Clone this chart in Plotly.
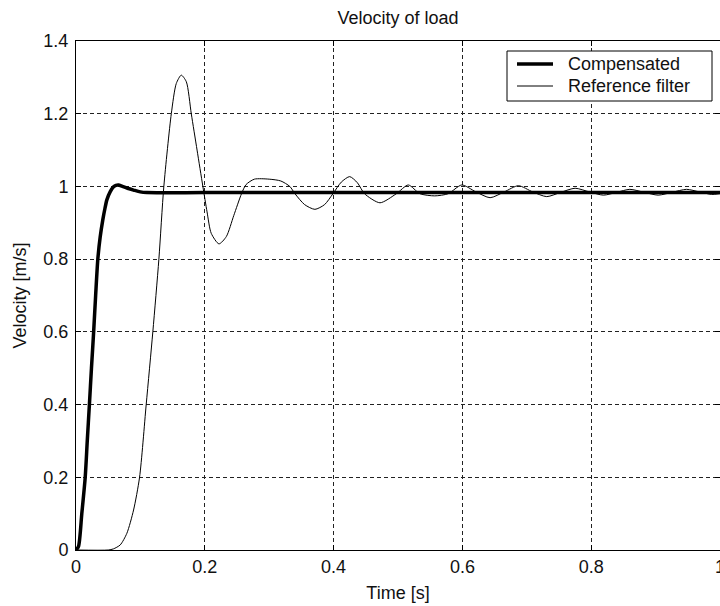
import plotly.graph_objects as go

# Step response of the load velocity: compensated system vs. reference filter
t_comp = [0, 0.0039, 0.009, 0.0143, 0.0175, 0.0208, 0.024, 0.0274, 0.0305, 0.0339,
          0.0375, 0.0416, 0.045, 0.0479, 0.053, 0.0583, 0.062, 0.066, 0.072, 0.08,
          0.0894, 0.0998, 0.11, 0.2, 0.4, 0.6, 0.8, 1.0]
v_comp = [0, 0.01, 0.10, 0.2, 0.3, 0.4, 0.5, 0.6, 0.7, 0.8,
          0.86, 0.908, 0.94, 0.963, 0.985, 0.999, 1.003, 1.004, 1.0, 0.995,
          0.99, 0.985, 0.983, 0.983, 0.983, 0.983, 0.983, 0.983]

t_ref = [0, 0.05, 0.058, 0.0687, 0.079, 0.0894, 0.0987, 0.109, 0.1193, 0.1287,
         0.1364, 0.148, 0.1557, 0.1635, 0.1713, 0.179, 0.188, 0.197, 0.2035, 0.21,
         0.222, 0.2334, 0.245, 0.257, 0.264, 0.277, 0.30, 0.318, 0.332, 0.340,
         0.355, 0.371, 0.386, 0.399, 0.412, 0.425, 0.437, 0.448, 0.472, 0.4975,
         0.516, 0.534, 0.557, 0.578, 0.599, 0.621, 0.643, 0.665, 0.687, 0.709,
         0.731, 0.753, 0.775, 0.797, 0.819, 0.84, 0.86, 0.882, 0.904, 0.926,
         0.948, 0.968, 0.987, 1.0]
v_ref = [0, 0, 0.003, 0.014, 0.046, 0.11, 0.2, 0.4, 0.6, 0.8,
         1.0, 1.2, 1.283, 1.306, 1.288, 1.2, 1.1, 1.0, 0.93, 0.871,
         0.842, 0.862, 0.92, 0.98, 1.005, 1.02, 1.02, 1.015, 1.0, 0.98,
         0.95, 0.937, 0.95, 0.98, 1.012, 1.027, 1.01, 0.98, 0.955, 0.98,
         1.004, 0.98, 0.974, 0.98, 1.004, 0.985, 0.969, 0.985, 1.002, 0.985,
         0.972, 0.984, 0.995, 0.985, 0.976, 0.984, 0.992, 0.984, 0.976, 0.984,
         0.992, 0.985, 0.978, 0.98]

series_names = ["Compensated", "Reference filter"]
series_widths = [3.5, 1]

x_ticks = [0, 0.2, 0.4, 0.6, 0.8, 1]
x_labels = ["0", "0.2", "0.4", "0.6", "0.8", "1"]
y_ticks = [0, 0.2, 0.4, 0.6, 0.8, 1, 1.2, 1.4]
y_labels = ["0", "0.2", "0.4", "0.6", "0.8", "1", "1.2", "1.4"]

FONT = "Liberation Sans, Arial, sans-serif"
TXT = "#111"
W, H = 720, 606
ML, MR, MT, MB = 76, 0, 41, 56
PW, PH = W - ML - MR, H - MT - MB


def px_x(x):
    """Pixel column -> paper x."""
    return (x - ML) / PW


def px_y(y):
    """Pixel row -> paper y."""
    return (H - MB - y) / PH


fig = go.Figure()
for tx, vy, name, lw in zip([t_comp, t_ref], [v_comp, v_ref], series_names, series_widths):
    fig.add_trace(go.Scatter(x=tx, y=vy, mode="lines", name=name, showlegend=False,
                             line=dict(color="black", width=lw, shape="spline", smoothing=0.7)))

axis_common = dict(
    showline=True, linecolor="black", linewidth=1, mirror="ticks",
    ticks="inside", ticklen=5, tickcolor="black",
    showgrid=True, gridcolor="#222", gridwidth=1, griddash="4px,3px",
    zeroline=False, tickfont=dict(family=FONT, size=18, color=TXT),
    ticklabeloverflow="allow",
)

fig.update_xaxes(range=[0, 1], tickvals=x_ticks, ticktext=x_labels,
                 ticklabelstandoff=0,
                 title=dict(text="Time [s]", font=dict(family=FONT, size=18, color=TXT),
                            standoff=10),
                 **axis_common)
fig.update_yaxes(range=[0, 1.4], tickvals=y_ticks, ticktext=y_labels,
                 ticklabelstandoff=3,
                 title=dict(text="Velocity [m/s]", font=dict(family=FONT, size=18, color=TXT),
                            standoff=12),
                 **axis_common)

# Boxed legend in the upper-right corner of the axes
shapes = [dict(type="rect", xref="paper", yref="paper",
               x0=px_x(507), x1=px_x(712), y0=px_y(101), y1=px_y(51),
               line=dict(color="black", width=1), fillcolor="white", layer="above")]
annotations = []
for i, (name, lw) in enumerate(zip(series_names, series_widths)):
    yy = 64 + 22 * i
    shapes.append(dict(type="line", xref="paper", yref="paper",
                       x0=px_x(517), x1=px_x(553), y0=px_y(yy), y1=px_y(yy),
                       line=dict(color="black", width=lw), layer="above"))
    annotations.append(dict(text=name, xref="paper", yref="paper", x=px_x(566), y=px_y(yy),
                            xanchor="left", yanchor="middle", showarrow=False,
                            font=dict(family=FONT, size=18, color=TXT)))

fig.update_layout(
    width=W, height=H,
    margin=dict(l=ML, r=MR, t=MT, b=MB, autoexpand=False),
    paper_bgcolor="white", plot_bgcolor="white",
    title=dict(text="Velocity of load", x=(ML + PW / 2) / W, xanchor="center",
               y=1 - 18 / H, yanchor="middle",
               font=dict(family=FONT, size=18, color=TXT)),
    showlegend=False,
    shapes=shapes,
    annotations=annotations,
)

fig.write_html("out.html")
